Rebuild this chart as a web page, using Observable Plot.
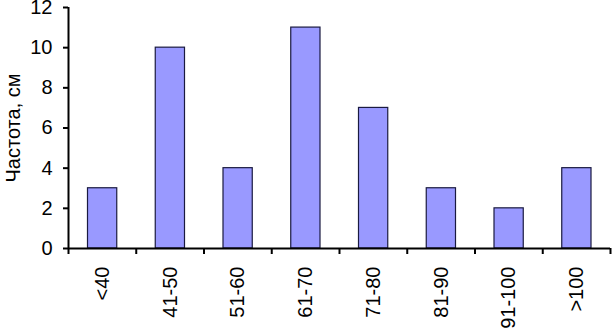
<!DOCTYPE html>
<html><head><meta charset="utf-8">
<script src="https://cdn.jsdelivr.net/npm/d3@7"></script>
<script src="https://cdn.jsdelivr.net/npm/@observablehq/plot@0.6"></script>
<style>body{margin:0;background:#fff} svg{display:block}</style>
</head><body><div id="chart"></div>
<script>
const categories = ["<40","41-50","51-60","61-70","71-80","81-90","91-100",">100"];
const values = [3,10,4,11,7,3,2,4];
const yTicks = [0,2,4,6,8,10,12];
const yLabel = "Частота, см";
const data = categories.map((c,i)=>({i, c, v: values[i]}));
const chart = Plot.plot({
  width:612, height:328, marginLeft:68, marginRight:2, marginTop:7, marginBottom:80,
  style:{fontFamily:"'Liberation Sans', Arial, sans-serif", background:"#fff", color:"#000"},
  x:{type:"linear", domain:[0,categories.length]},
  y:{domain:[0,12]},
  marks:[
    Plot.rectY(data,{x1:"i", x2:d=>d.i+1, y:"v", fill:"#9999ff", stroke:"#1a1a40", strokeWidth:1.2, insetLeft:19.5, insetRight:19}),
    Plot.axisY({ticks:yTicks, tickSize:5, tickPadding:11, fontSize:20, strokeWidth:2, label:yLabel, labelAnchor:"center", labelOffset:63, labelArrow:"none"}),
    Plot.ruleX([0],{strokeWidth:2}),
    Plot.ruleY([0],{strokeWidth:2}),
    Plot.axisX({ticks:d3.range(0, categories.length+1), tickSize:6, tickFormat:()=>"", strokeWidth:2, label:null}),
    Plot.axisX({ticks:categories.map((c,i)=>i+0.5), tickFormat:d=>categories[Math.floor(d)], tickSize:0, tickRotate:-90, tickPadding:18, fontSize:20, label:null})
  ]
});
document.getElementById("chart").append(chart);
</script>
</body></html>
